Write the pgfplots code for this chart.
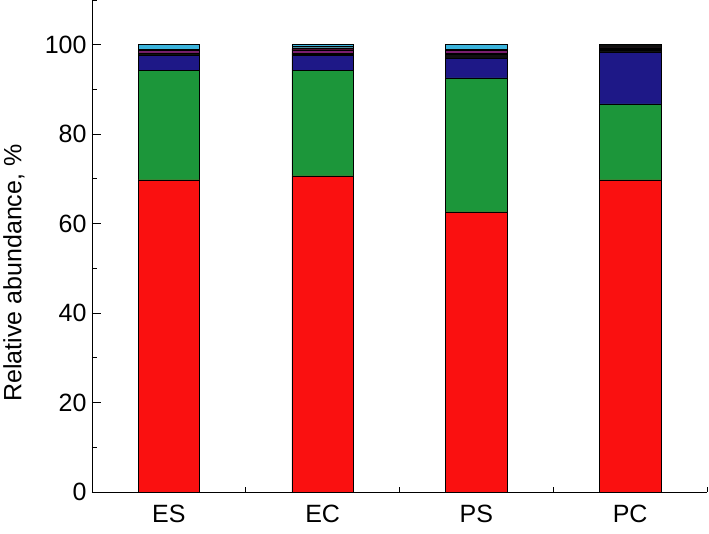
\documentclass[border=0pt]{standalone}
\usepackage{fontspec}
\setmainfont{Liberation Sans}
\usepackage{pgfplots}
\pgfplotsset{compat=1.18}
\definecolor{cred}{RGB}{250,16,16}
\definecolor{cgreen}{RGB}{28,150,58}
\definecolor{cnavy}{RGB}{30,24,135}
\definecolor{cblack}{RGB}{16,16,16}
\definecolor{colive}{RGB}{60,60,20}
\definecolor{cpurple}{RGB}{122,30,110}
\definecolor{cdred}{RGB}{80,16,46}
\definecolor{cteal}{RGB}{80,140,156}
\definecolor{ccyan}{RGB}{60,180,220}
\begin{document}
\begin{tikzpicture}
\useasboundingbox (-92pt,-42pt) rectangle (617pt,492pt);
\begin{axis}[
  at={(0,0)}, anchor=south west,
  scale only axis, width=615pt, height=492pt,
  xmin=0.5, xmax=4.5, ymin=0, ymax=110,
  axis x line*=bottom, axis y line*=left,
  axis line style={line width=0.9pt, -},
  ybar stacked, bar width=0.40,
  xtick={1,2,3,4}, xticklabels={ES,EC,PS,PC},
  minor xtick={1.5,2.5,3.5,4.5},
  ytick={0,20,...,100}, minor ytick={10,30,...,110},
  tick align=inside,
  major tick length=9pt, minor tick length=5pt,
  tick style={line width=0.9pt, black},
  font=\fontsize{25}{29}\selectfont,
  /pgf/number format/assume math mode=true,
  yticklabel style={xshift=-2pt},
  xticklabel style={yshift=-10pt},
  ylabel={Relative abundance, \%},
  ylabel style={at={(axis description cs:-0.1268,0.445)}, anchor=center},
  every axis plot/.append style={draw=black, line width=0.5pt},
]
\addplot[fill=cred] coordinates {(1,69.8) (2,70.7) (3,62.6) (4,69.8)};
\addplot[fill=cgreen] coordinates {(1,24.4) (2,23.5) (3,30.0) (4,17.0)};
\addplot[fill=cnavy] coordinates {(1,3.5) (2,3.4) (3,4.4) (4,11.5)};
\addplot[fill=cblack] coordinates {(1,0.3) (2,0.3) (3,0.8) (4,0.5)};
\addplot[fill=colive] coordinates {(1,0.2) (2,0.2) (3,0.3) (4,0.1)};
\addplot[fill=cpurple] coordinates {(1,0.5) (2,0.6) (3,0.6) (4,0.3)};
\addplot[fill=cdred] coordinates {(1,0.3) (2,0.4) (3,0.3) (4,0.1)};
\addplot[fill=cteal] coordinates {(1,0.0) (2,0.6) (3,0.0) (4,0.0)};
\addplot[fill=ccyan] coordinates {(1,1.0) (2,0.3) (3,1.0) (4,0.0)};
\addplot[fill=cblack] coordinates {(1,0.0) (2,0.0) (3,0.0) (4,0.7)};
\end{axis}
\end{tikzpicture}
\end{document}
